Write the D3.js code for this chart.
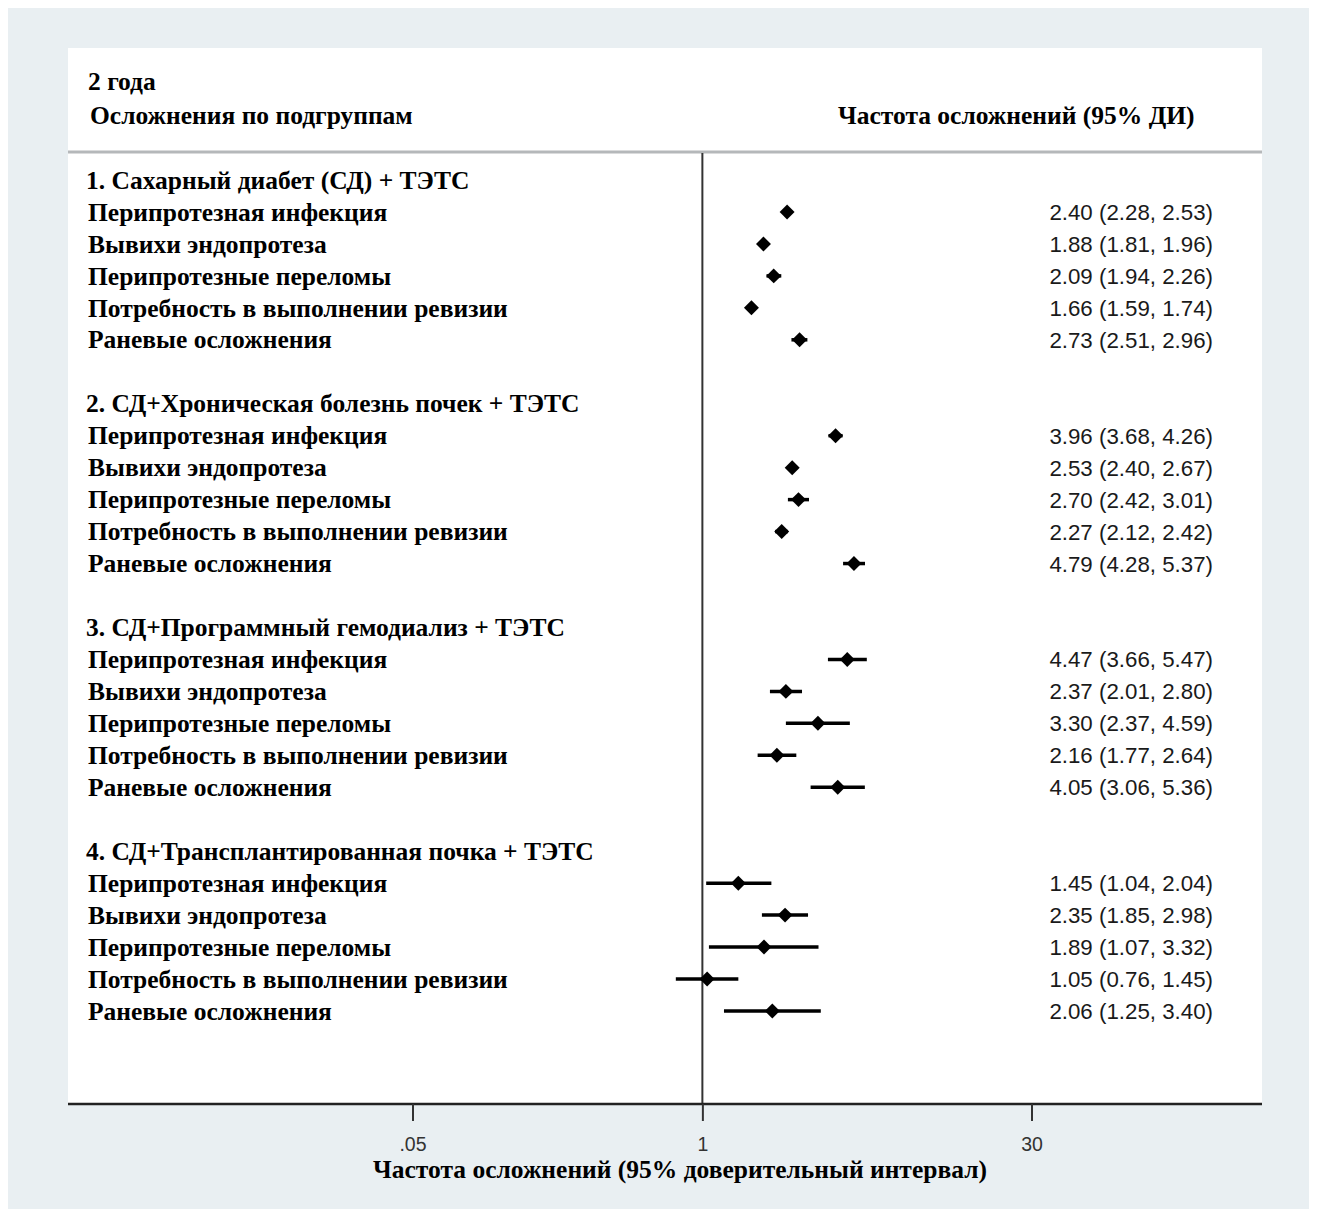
<!DOCTYPE html>
<html>
<head>
<meta charset="utf-8">
<script src="https://cdn.jsdelivr.net/npm/d3@7"></script>
<style>
  html, body { margin: 0; padding: 0; background: #ffffff; }
  svg { display: block; }
  .serif { font-family: "Liberation Serif", "Times New Roman", serif; font-weight: bold; fill: #000; }
  .sans { font-family: "Liberation Sans", Arial, sans-serif; fill: #1a1a1a; }
</style>
</head>
<body>
<div id="chart"></div>
<script>
// subgroup names and outcomes
var groups = [
  "1. Сахарный диабет (СД) + ТЭТС",
  "2. СД+Хроническая болезнь почек + ТЭТС",
  "3. СД+Программный гемодиализ + ТЭТС",
  "4. СД+Трансплантированная почка + ТЭТС"
];
var outcomes = [
  "Перипротезная инфекция",
  "Вывихи эндопротеза",
  "Перипротезные переломы",
  "Потребность в выполнении ревизии",
  "Раневые осложнения"
];

// rate, lower and upper 95% CI per group (rows follow outcomes)
var rate = [
  [2.40, 1.88, 2.09, 1.66, 2.73],
  [3.96, 2.53, 2.70, 2.27, 4.79],
  [4.47, 2.37, 3.30, 2.16, 4.05],
  [1.45, 2.35, 1.89, 1.05, 2.06]
];
var lower = [
  [2.28, 1.81, 1.94, 1.59, 2.51],
  [3.68, 2.40, 2.42, 2.12, 4.28],
  [3.66, 2.01, 2.37, 1.77, 3.06],
  [1.04, 1.85, 1.07, 0.76, 1.25]
];
var upper = [
  [2.53, 1.96, 2.26, 1.74, 2.96],
  [4.26, 2.67, 3.01, 2.42, 5.37],
  [5.47, 2.80, 4.59, 2.64, 5.36],
  [2.04, 2.98, 3.32, 1.45, 3.40]
];

var xTicks = [0.05, 1, 30];
var xTickLabels = [".05", "1", "30"];

var titleTop = "2 года";
var titleLeft = "Осложнения по подгруппам";
var titleRight = "Частота осложнений (95% ДИ)";
var xTitle = "Частота осложнений (95% доверительный интервал)";

// build rows: header, 5 outcomes, blank
var rows = [];
groups.forEach(function (g, gi) {
  rows.push({ type: "group", label: g, idx: gi * 7 });
  outcomes.forEach(function (o, oi) {
    rows.push({
      type: "item", label: o, idx: gi * 7 + 1 + oi,
      est: rate[gi][oi], lo: lower[gi][oi], hi: upper[gi][oi]
    });
  });
});

var W = 1317, H = 1217;
var panel = { left: 68, right: 1262, top: 48, bottom: 1104, header: 152 };
var labelSize = "25.5px";

var svg = d3.select("#chart").append("svg")
  .attr("width", W)
  .attr("height", H);

// backgrounds
svg.append("rect").attr("x", 8).attr("y", 8).attr("width", W - 16).attr("height", H - 16)
  .style("fill", "#e9eff2");
svg.append("rect").attr("x", panel.left).attr("y", panel.top)
  .attr("width", panel.right - panel.left).attr("height", panel.bottom - panel.top)
  .style("fill", "#ffffff");

// scales
var x = d3.scaleLog().domain([0.05, 30]).range([412.5, 1031.5]);
var y = d3.scaleLinear().domain([0, 26]).range([180, 1011]);

// header separator
svg.append("line")
  .attr("x1", panel.left).attr("x2", panel.right)
  .attr("y1", panel.header).attr("y2", panel.header)
  .style("stroke", "#b5b8ba").style("stroke-width", 3);

// reference line at 1
svg.append("line")
  .attr("x1", x(1)).attr("x2", x(1))
  .attr("y1", panel.header + 1).attr("y2", panel.bottom)
  .style("stroke", "#333").style("stroke-width", 2);

// x axis
var axis = svg.append("g")
  .attr("class", "x axis")
  .attr("transform", "translate(0," + panel.bottom + ")")
  .call(d3.axisBottom(x).tickValues(xTicks).tickSize(17).tickPadding(16)
    .tickFormat(function (d, i) { return xTickLabels[i]; }));
axis.select(".domain").remove();
axis.selectAll(".tick line").style("stroke", "#333").style("stroke-width", 2);
axis.selectAll(".tick text")
  .attr("class", "sans")
  .style("font-size", "19.5px")
  .style("fill", "#333");
axis.insert("line", ":first-child")
  .attr("x1", panel.left).attr("x2", panel.right)
  .style("stroke", "#222").style("stroke-width", 2.5);

// header texts
svg.append("text").attr("class", "serif").attr("x", 88).attr("y", 90)
  .style("font-size", labelSize).text(titleTop);
svg.append("text").attr("class", "serif").attr("x", 90).attr("y", 124)
  .style("font-size", labelSize).text(titleLeft);
svg.append("text").attr("class", "serif").attr("x", 838).attr("y", 124)
  .style("font-size", labelSize).text(titleRight);

// row labels
svg.selectAll(".rowlabel")
  .data(rows)
  .enter().append("text")
  .attr("class", "serif rowlabel")
  .attr("x", function (d) { return d.type === "group" ? 86 : 88; })
  .attr("y", function (d) { return y(d.idx); })
  .attr("dy", "0.34em")
  .style("font-size", labelSize)
  .text(function (d) { return d.label; });

var items = rows.filter(function (d) { return d.type === "item"; });

// confidence intervals
svg.selectAll(".ci")
  .data(items)
  .enter().append("line")
  .attr("class", "ci")
  .attr("x1", function (d) { return x(d.lo); })
  .attr("x2", function (d) { return x(d.hi); })
  .attr("y1", function (d) { return y(d.idx); })
  .attr("y2", function (d) { return y(d.idx); })
  .style("stroke", "#000").style("stroke-width", 3.5);

// diamonds
var diamond = d3.symbol().type(d3.symbolSquare).size(112);
svg.selectAll(".dot")
  .data(items)
  .enter().append("path")
  .attr("class", "dot")
  .attr("d", diamond)
  .attr("transform", function (d) {
    return "translate(" + x(d.est) + "," + y(d.idx) + ") rotate(45)";
  })
  .style("fill", "#000");

// estimate text
var f = d3.format(".2f");
svg.selectAll(".est")
  .data(items)
  .enter().append("text")
  .attr("class", "sans est")
  .attr("x", 1213)
  .attr("y", function (d) { return y(d.idx); })
  .attr("dy", "0.36em")
  .attr("text-anchor", "end")
  .style("font-size", "22.3px")
  .text(function (d) { return f(d.est) + " (" + f(d.lo) + ", " + f(d.hi) + ")"; });

// axis title
svg.append("text").attr("class", "serif")
  .attr("x", 680).attr("y", 1178)
  .attr("text-anchor", "middle")
  .style("font-size", labelSize)
  .text(xTitle);
</script>
</body>
</html>
